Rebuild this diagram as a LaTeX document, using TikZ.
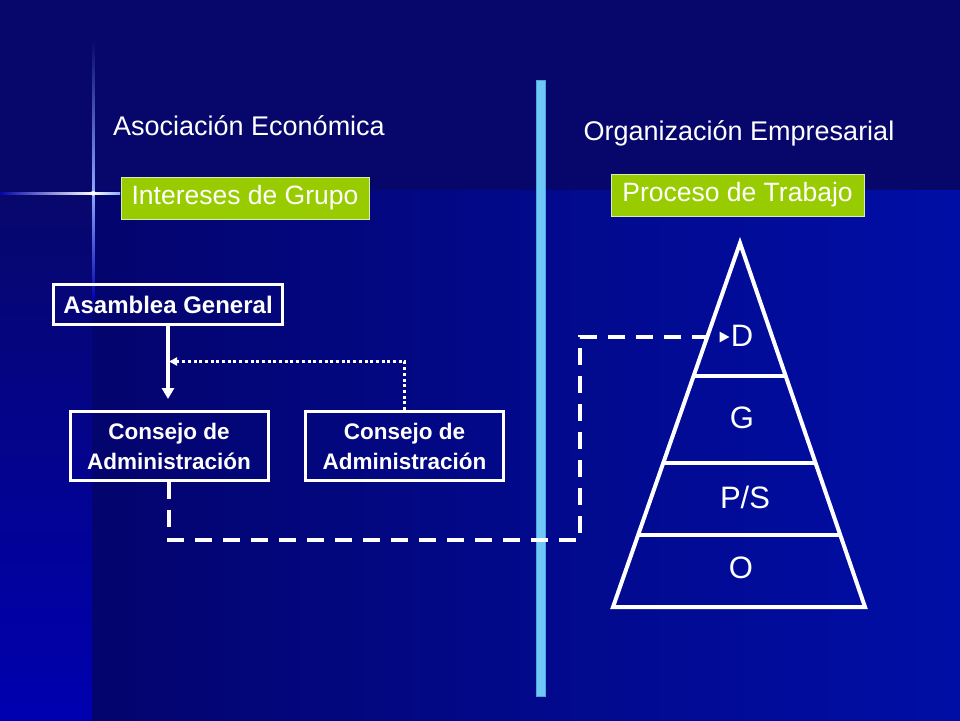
\documentclass[tikz,border=0pt]{standalone}
\usepackage{fontspec}
\setmainfont{Liberation Sans}
\usetikzlibrary{arrows.meta,calc}
\definecolor{bgtop}{HTML}{07076B}
\definecolor{bgleft}{HTML}{04046E}
\definecolor{bgright}{HTML}{000EA6}
\definecolor{stripb}{HTML}{0000B0}
\definecolor{flare}{HTML}{8FA8FF}
\definecolor{grn}{HTML}{99CC00}
\definecolor{grnedge}{HTML}{D8ECB0}
\definecolor{barc}{HTML}{6FC8F8}
\definecolor{baredge}{HTML}{4AA6DC}
\begin{document}
\begin{tikzpicture}[x=1pt,y=-1pt,
  titletext/.style={text=white,font=\fontsize{27}{32}\selectfont,inner sep=0pt},
  greenbox/.style={fill=grn,draw=grnedge,line width=1pt,text=white,
    font=\fontsize{26.5}{32}\selectfont,inner sep=0pt,minimum height=42pt},
  orgbox/.style={draw=white,line width=3pt,text=white,align=center,inner sep=0pt,
    font=\bfseries\fontsize{22.5}{30}\selectfont},
  pyrlabel/.style={text=white,font=\fontsize{31}{34}\selectfont,inner sep=0pt},
  wline/.style={draw=white,line width=4pt},
]
\useasboundingbox (0,0) rectangle (960,720);
% background
\fill[bgtop] (0,0) rectangle (960,720);
\shade[left color=bgleft,right color=bgright] (92,190) rectangle (960,720);
\shade[top color=bgtop,bottom color=stripb] (0,190) rectangle (92,720);
% flare
\shade[top color=bgtop,bottom color=flare] (92,40) rectangle (94.5,193);
\shade[top color=flare,bottom color=stripb] (92,193) rectangle (94.5,300);
\shade[left color=bgtop!60!blue,right color=white] (0,192) rectangle (93,194.5);
\shade[left color=white,right color=flare] (93,192) rectangle (120,194.5);
\fill[white,opacity=0.8] (93.2,193.2) circle (2.5);
% divider bar
\fill[barc,draw=baredge,line width=0.8pt] (536,80) rectangle (545,696);
% titles
\node[titletext,anchor=base] (t1) at (249,135) {Asociación Económica};
\node[titletext,anchor=base] (t2) at (739,140) {Organización Empresarial};
% green boxes
\node[greenbox,minimum width=248pt] (g1) at (245,198) {Intereses de Grupo};
\node[greenbox,minimum width=253pt] (g2) at (737.5,195) {Proceso de Trabajo};
% org boxes
\node[orgbox,minimum width=229pt,minimum height=40pt,font=\bfseries\fontsize{24}{30}\selectfont] (ag) at (168,304.5) {Asamblea General};
\node[orgbox,minimum width=198pt,minimum height=69pt] (c1) at (169,446) {Consejo de\\Administración};
\node[orgbox,minimum width=198pt,minimum height=69pt] (c2) at (404.5,446) {Consejo de\\Administración};
% pyramid
\coordinate (apex) at (740,243);
\coordinate (bl) at (613,607);
\coordinate (br) at (865,607);
\draw[wline,line join=miter] (apex) -- (br) -- (bl) -- cycle;
\draw[wline] (694,376) -- (786,376);
\draw[wline] (664,463) -- (816,463);
\draw[wline] (639,535) -- (841,535);
\node[pyrlabel] (D) at (742,336) {D};
\node[pyrlabel] (G) at (742,418) {G};
\node[pyrlabel] (PS) at (745,497) {P/S};
\node[pyrlabel] (O) at (741,568) {O};
% connectors
\draw[white,line width=3.5pt,-{Triangle[width=12pt,length=11pt]},shorten >=11pt]
  (ag.south -| 168,0) -- (168,410);
\coordinate (dj) at (169,361.5);
\draw[white,line width=3pt,dash pattern=on 3pt off 2.7pt,-{Triangle[width=8pt,length=8pt]}]
  (c2.north) |- (dj);
\coordinate (dA) at (580,540);
\draw[white,line width=4pt,dash pattern=on 17pt off 11pt,-{Triangle[width=10pt,length=10pt]}]
  (c1.south) |- (dA) |- ($(D.west)+(-1,1)$);
\end{tikzpicture}
\end{document}
